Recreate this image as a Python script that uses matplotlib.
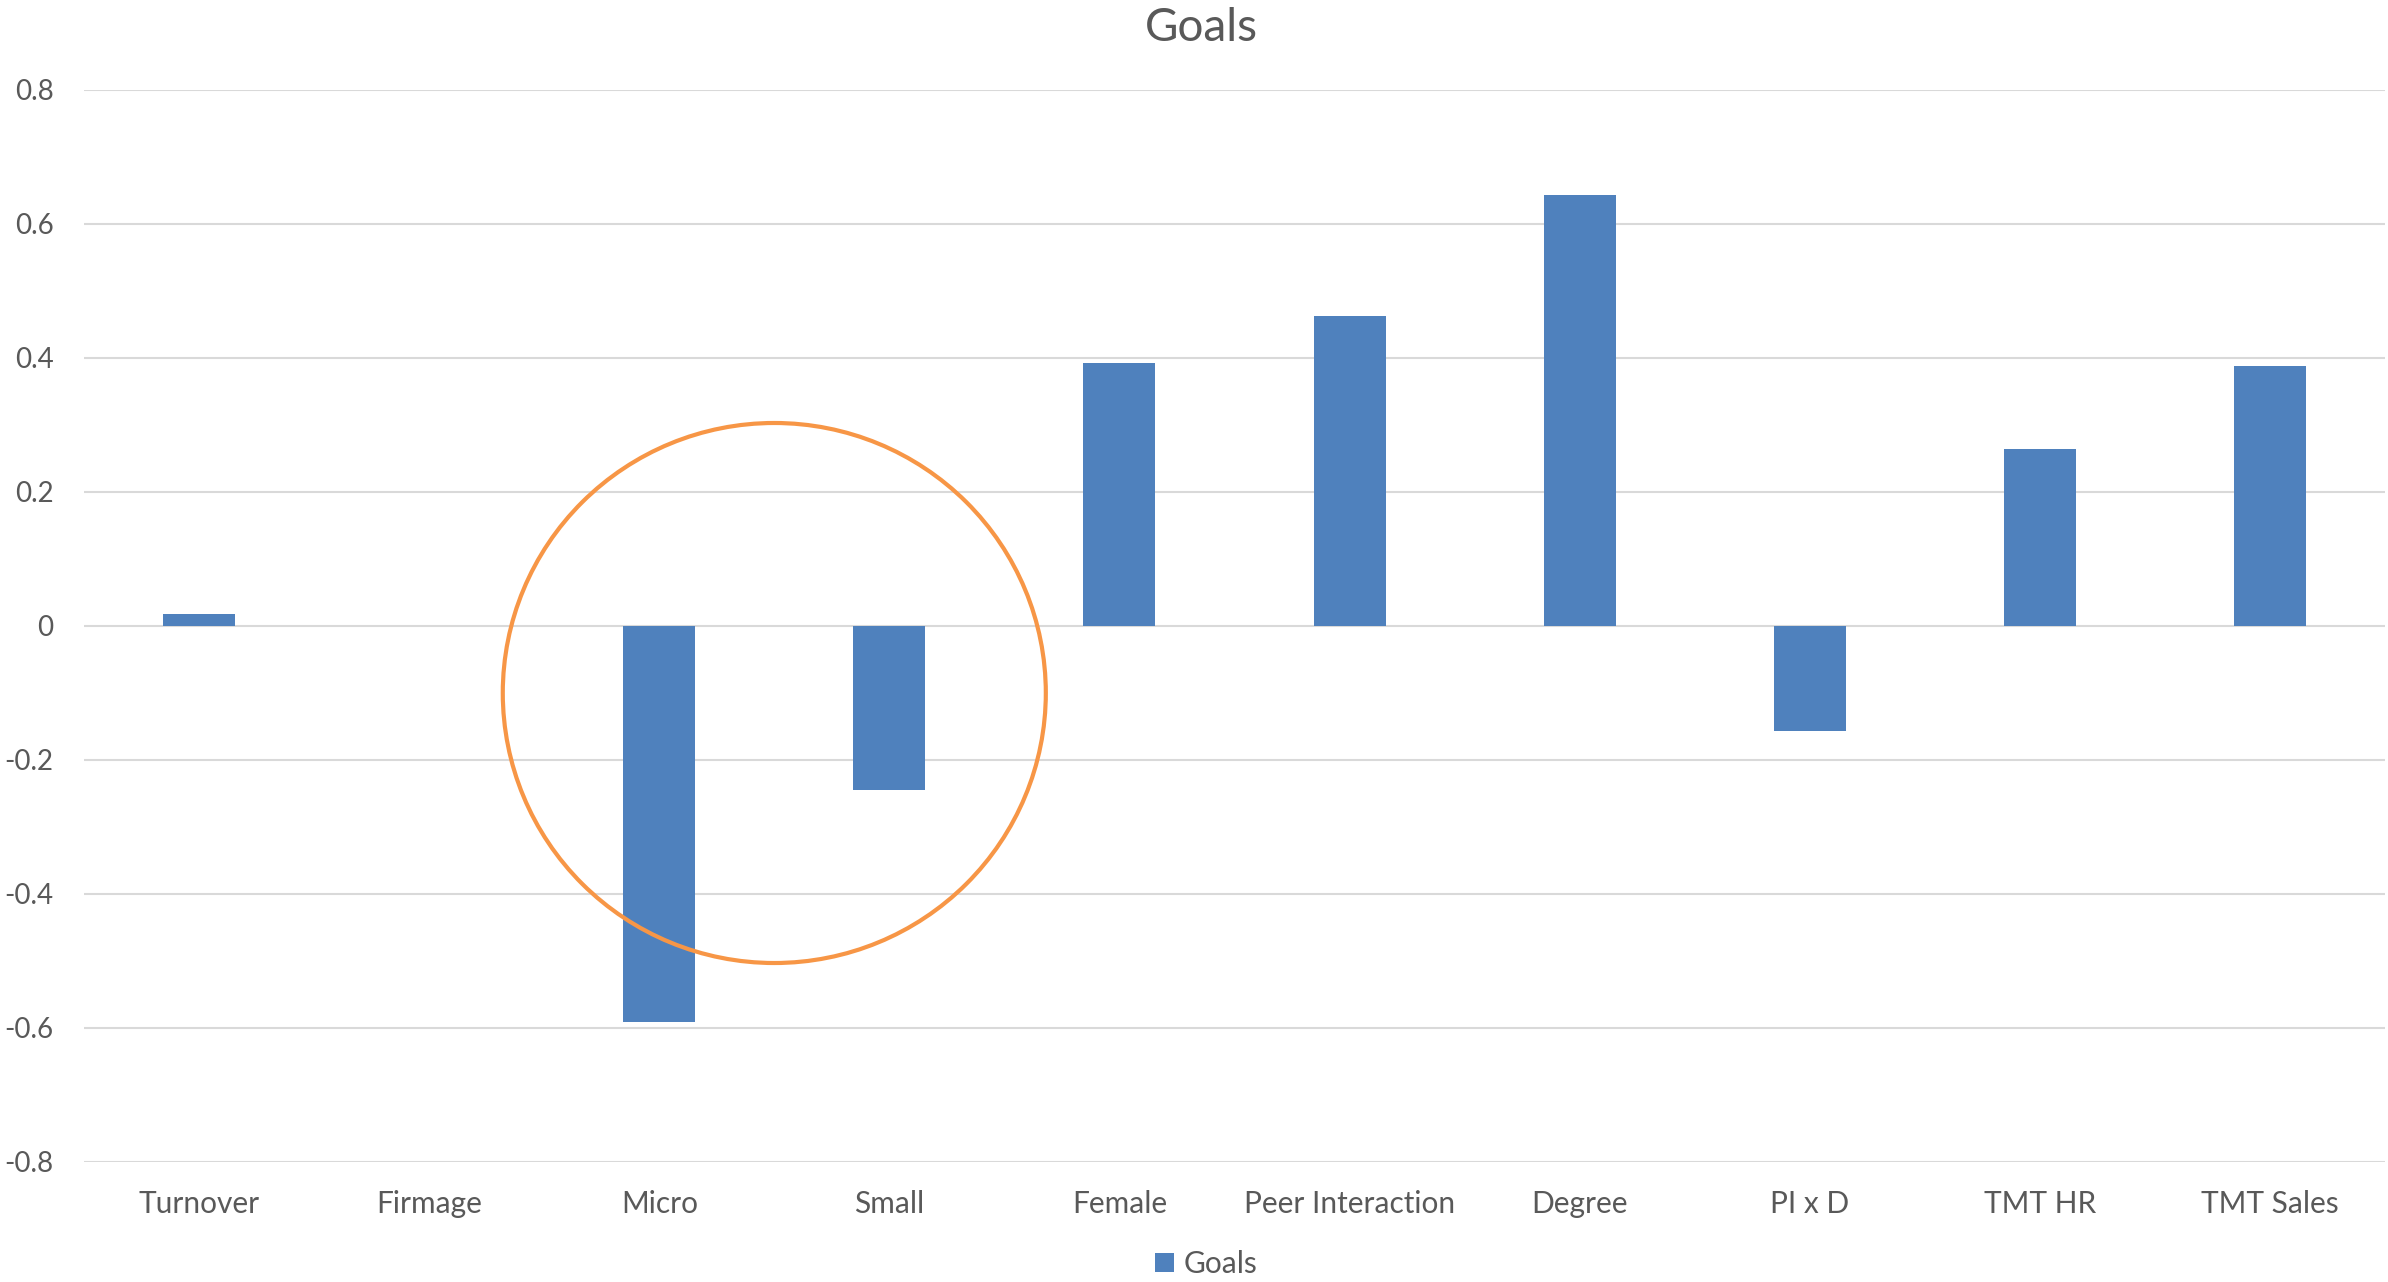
import matplotlib
matplotlib.use("Agg")
import matplotlib.pyplot as plt
from matplotlib.patches import Ellipse
import numpy as np

# Regression coefficients for the "Goals" outcome
categories = ["Turnover", "Firmage", "Micro", "Small", "Female",
              "Peer Interaction", "Degree", "PI x D", "TMT HR", "TMT Sales"]
goals = [0.018, 0.0, -0.591, -0.245, 0.392, 0.463, 0.643, -0.157, 0.264, 0.388]
y_ticks = [0.8, 0.6, 0.4, 0.2, 0.0, -0.2, -0.4, -0.6, -0.8]
y_tick_labels = ["0.8", "0.6", "0.4", "0.2", "0", "-0.2", "-0.4", "-0.6", "-0.8"]
series_name = "Goals"
highlighted = ["Micro", "Small"]

BAR_COLOR = "#4F81BD"
RING_COLOR = "#F79646"
TEXT_COLOR = "#595959"
GRID_COLOR = "#D9D9D9"

plt.rcParams["font.family"] = ["Lato", "DejaVu Sans"]

fig = plt.figure(figsize=(23.88, 12.82), dpi=100)
ax = fig.add_axes([84 / 2388, 120 / 1282, (2385 - 84) / 2388, (1162 - 90) / 1282])

x = np.arange(len(categories))
ax.bar(x, goals, width=0.313, color=BAR_COLOR, label=series_name, zorder=3,
       linewidth=0)

ax.set_xlim(-0.5, len(categories) - 0.5)
ax.set_ylim(-0.8, 0.8)
ax.set_yticks(y_ticks)
ax.set_yticklabels(y_tick_labels)
ax.set_xticks(x)
ax.set_xticklabels(categories)

ax.grid(axis="y", color=GRID_COLOR, linewidth=1.5, zorder=0)
ax.grid(axis="x", visible=False)
for s in ax.spines.values():
    s.set_visible(False)
ax.tick_params(axis="both", length=0, colors=TEXT_COLOR)
ax.tick_params(axis="x", labelsize=21.5, pad=20)
ax.tick_params(axis="y", labelsize=20, pad=22)

# Ring drawn around the firm-size dummies
idx = [categories.index(c) for c in highlighted]
cx = (x[idx[0]] + x[idx[1]]) / 2
ring = Ellipse((cx, -0.1), width=2.36, height=0.806, fill=False,
               edgecolor=RING_COLOR, linewidth=3.0, zorder=4)
ax.add_patch(ring)

fig.suptitle(series_name, x=1201 / 2388, y=1 - 28 / 1282, va="center",
             fontsize=33, color=TEXT_COLOR)

leg = ax.legend(loc="center",
                bbox_to_anchor=((1206 - 84) / 2301, (1282 - 1264 - 120) / (1162 - 90)),
                frameon=False, fontsize=21.5, handlelength=0.65, handleheight=0.65,
                handletextpad=0.3, borderaxespad=0)
for t in leg.get_texts():
    t.set_color(TEXT_COLOR)

fig.savefig("out.png", dpi=100, facecolor="white")
